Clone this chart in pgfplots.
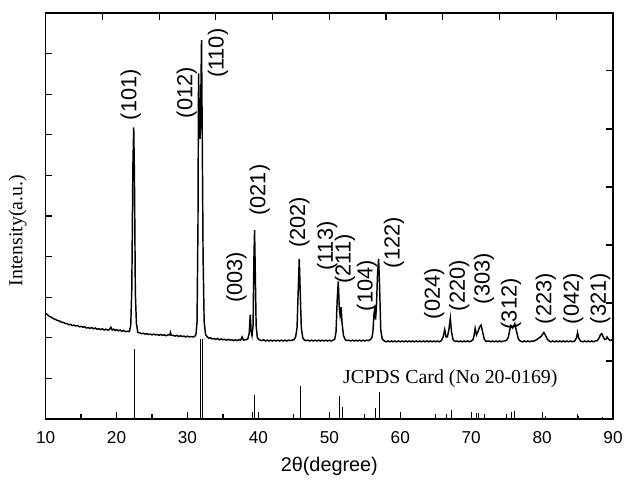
\documentclass[border=0pt]{standalone}
\usepackage{fontspec}
\setmainfont{Liberation Sans}
\newfontfamily\timesfont{Liberation Serif}
\usepackage{pgfplots}
\pgfplotsset{compat=1.18}

\begin{document}
\begin{tikzpicture}
\begin{axis}[
  scale only axis,
  width=429pt, height=307pt,
  xmin=10, xmax=90, ymin=0, ymax=10,
  xtick={10,20,...,90}, minor x tick num=1,
  ytick={1,...,9}, yticklabels={},
  xtick pos=left, ytick pos=left,
  tick align=inside,
  major tick length=5pt, minor tick length=3.5pt,
  axis line style={line width=1.1pt},
  every tick/.style={line width=0.9pt, black},
  /pgf/number format/assume math mode=true,
  ticklabel style={font=\fontsize{13}{14}\selectfont},
  xticklabel style={yshift=-6pt},
  xlabel={2θ(degree)},
  xlabel style={font=\fontsize{15}{16}\selectfont, yshift=-3pt},
  ylabel={\timesfont Intensity(a.u.)},
  ylabel style={font=\fontsize{15}{16}\selectfont, yshift=4pt, xshift=-11pt},
  clip=false,
]
% measured pattern
\addplot[black, line width=1.1pt, no marks] coordinates {
(10.0,2.60) (10.25,2.57) (10.5,2.53) (10.75,2.51) (11.0,2.48) (11.25,2.46) (11.5,2.44) (11.75,2.42)
(12.0,2.41) (12.25,2.38) (12.5,2.38) (12.75,2.35) (13.0,2.35) (13.25,2.32) (13.5,2.33) (13.75,2.30)
(14.0,2.31) (14.25,2.29) (14.5,2.30) (14.75,2.27) (15.0,2.28) (15.25,2.26) (15.5,2.27) (15.75,2.24)
(16.0,2.25) (16.25,2.23) (16.5,2.25) (16.75,2.22) (17.0,2.24) (17.25,2.21) (17.5,2.22) (17.75,2.20)
(18.0,2.22) (18.25,2.19) (18.5,2.21) (18.75,2.19) (19.0,2.20) (19.2,2.26) (19.4,2.19) (19.6,2.21)
(19.8,2.18) (20.0,2.20) (20.25,2.17) (20.5,2.19) (20.75,2.16) (21.0,2.18) (21.25,2.15) (21.5,2.16)
(21.8,2.15) (22.0,2.30) (22.15,3.20) (22.3,6.20) (22.42,7.18) (22.52,6.00) (22.65,3.10) (22.8,2.35)
(23.0,2.13) (23.25,2.12) (23.5,2.10) (23.75,2.11) (24.0,2.09) (24.25,2.10) (24.5,2.08) (24.75,2.09)
(25.0,2.07) (25.25,2.09) (25.5,2.07) (25.75,2.08) (26.0,2.06) (26.25,2.08) (26.5,2.06) (26.75,2.07)
(27.0,2.05) (27.25,2.07) (27.5,2.07) (27.6,2.13) (27.7,2.06) (28.0,2.06) (28.25,2.04) (28.5,2.06)
(28.75,2.03) (29.0,2.05) (29.25,2.03) (29.5,2.04) (29.75,2.02) (30.0,2.04) (30.25,2.02) (30.5,2.03)
(30.75,2.02) (31.0,2.03) (31.2,2.08) (31.35,2.40) (31.48,4.80) (31.56,8.51) (31.66,7.60)
(31.78,6.90) (31.9,8.20) (31.98,9.33) (32.08,7.00) (32.2,4.00) (32.35,2.40) (32.55,2.08)
(32.8,2.02) (33.0,1.99) (33.25,2.00) (33.5,1.97) (33.75,1.98) (34.0,1.96) (34.25,1.98) (34.5,1.95)
(34.75,1.97) (35.0,1.95) (35.25,1.96) (35.5,1.94) (35.75,1.96) (36.0,1.94) (36.25,1.95) (36.5,1.93)
(36.75,1.95) (37.0,1.93) (37.25,1.95) (37.5,1.94) (37.7,2.02) (37.9,1.94) (38.2,1.95) (38.5,1.97)
(38.7,2.10) (38.85,2.57) (38.98,2.15) (39.1,2.05) (39.25,2.30) (39.36,3.90) (39.46,4.65) (39.56,3.60)
(39.68,2.30) (39.85,2.00) (40.1,1.95) (40.5,1.93) (40.75,1.95) (41.0,1.92) (41.25,1.94) (41.5,1.92)
(41.75,1.94) (42.0,1.92) (42.25,1.94) (42.5,1.92) (42.75,1.94) (43.0,1.92) (43.25,1.94) (43.5,1.92)
(43.75,1.94) (44.0,1.92) (44.25,1.94) (44.5,1.93) (44.75,1.94) (45.0,1.95) (45.25,2.02) (45.45,2.25)
(45.6,3.10) (45.76,3.94) (45.9,3.10) (46.05,2.25) (46.25,2.00) (46.5,1.94) (46.75,1.93) (47.0,1.94)
(47.25,1.92) (47.5,1.94) (47.75,1.92) (48.0,1.94) (48.25,1.92) (48.5,1.94) (48.75,1.92) (49.0,1.94)
(49.25,1.92) (49.5,1.94) (49.75,1.92) (50.0,1.94) (50.25,1.92) (50.5,1.94) (50.75,1.96) (50.95,2.15)
(51.1,2.90) (51.26,3.39) (51.4,2.75) (51.52,2.55) (51.66,2.75) (51.8,2.35) (52.0,2.05) (52.25,1.95)
(52.5,1.93) (52.75,1.94) (53.0,1.92) (53.25,1.94) (53.5,1.92) (53.75,1.94) (54.0,1.92) (54.25,1.94)
(54.5,1.92) (54.75,1.94) (55.0,1.92) (55.25,1.94) (55.5,1.93) (55.75,1.95) (56.0,2.00) (56.15,2.15)
(56.3,2.60) (56.4,2.70) (56.52,2.45) (56.65,2.80) (56.8,3.60) (56.95,3.94) (57.08,3.30) (57.25,2.20)
(57.45,1.97) (57.75,1.92) (58.0,1.90) (58.25,1.92) (58.5,1.90) (58.75,1.92) (59.0,1.90) (59.25,1.92)
(59.5,1.90) (59.75,1.92) (60.0,1.90) (60.25,1.92) (60.5,1.90) (60.75,1.92) (61.0,1.90) (61.25,1.92)
(61.5,1.90) (61.75,1.92) (62.0,1.90) (62.25,1.92) (62.5,1.90) (62.75,1.92) (63.0,1.90) (63.25,1.92)
(63.5,1.90) (63.75,1.92) (64.0,1.90) (64.25,1.92) (64.5,1.90) (64.75,1.92) (65.0,1.90) (65.25,1.92)
(65.5,1.90) (65.8,1.93) (66.05,2.02) (66.27,2.20) (66.45,2.02) (66.65,2.02) (66.85,2.20) (67.06,2.48)
(67.22,2.15) (67.45,1.95) (67.75,1.91) (68.0,1.92) (68.25,1.90) (68.5,1.92) (68.75,1.90) (69.0,1.92)
(69.25,1.90) (69.5,1.92) (69.75,1.90) (70.0,1.92) (70.25,1.95) (70.4,2.05) (70.56,2.23) (70.75,2.07)
(70.95,2.15) (71.2,2.27) (71.4,2.31) (71.6,2.15) (71.85,1.96) (72.1,1.91) (72.5,1.92) (72.75,1.90)
(73.0,1.92) (73.25,1.90) (73.5,1.92) (73.75,1.90) (74.0,1.92) (74.25,1.90) (74.5,1.92) (74.75,1.92)
(75.0,1.94) (75.25,2.02) (75.45,2.20) (75.6,2.30) (75.85,2.24) (76.15,2.35) (76.4,2.15) (76.65,1.97)
(76.9,1.92) (77.25,1.90) (77.5,1.92) (77.75,1.90) (78.0,1.92) (78.25,1.90) (78.5,1.92) (78.75,1.91)
(79.0,1.93) (79.3,1.96) (79.6,2.00) (79.85,2.03) (80.05,2.08) (80.25,2.13) (80.5,2.05) (80.75,1.96)
(81.0,1.92) (81.25,1.90) (81.5,1.92) (81.75,1.90) (82.0,1.92) (82.25,1.90) (82.5,1.92) (82.75,1.90)
(83.0,1.92) (83.25,1.90) (83.5,1.92) (83.75,1.90) (84.0,1.92) (84.25,1.90) (84.6,1.92) (84.85,2.00)
(85.0,2.13) (85.15,2.00) (85.4,1.92) (85.75,1.90) (86.0,1.92) (86.25,1.90) (86.5,1.92) (86.75,1.90)
(87.0,1.92) (87.25,1.90) (87.5,1.92) (87.8,1.93) (88.05,2.00) (88.25,2.08) (88.4,2.10) (88.6,2.03)
(88.8,1.96) (89.0,1.96) (89.15,2.02) (89.35,1.97) (89.6,1.93) (89.8,1.95) (90.0,1.92)
};
% JCPDS reference lines
\addplot[black, line width=0.6pt, ycomb, no marks] coordinates {
(22.55,1.73) (31.77,1.96) (32.1,1.96) (39.09,0.17) (39.5,0.59) (45.9,0.82)
(51.45,0.57) (51.8,0.30) (56.5,0.27) (57.1,0.67) (66.5,0.12) (67.2,0.22)
(70.7,0.14) (71.07,0.15) (71.8,0.13) (75.6,0.17) (76.1,0.20)
(80.5,0.07) (85.06,0.07) (88.55,0.05)
};
\node[font=\fontsize{15}{16}\selectfont\timesfont] at (axis cs:67.06,0.99) {JCPDS Card (No 20-0169)};
\begin{scope}[every node/.style={rotate=90, anchor=west, inner sep=0pt, font=\fontsize{16.5}{17}\selectfont}]
\node at (axis cs:22.0,7.35) {(101)};
\node at (axis cs:29.9,7.40) {(012)};
\node at (axis cs:34.3,8.39) {(110)};
\node at (axis cs:36.9,2.85) {(003)};
\node at (axis cs:40.2,5.00) {(021)};
\node at (axis cs:45.8,4.21) {(202)};
\node at (axis cs:49.7,3.64) {(113)};
\node at (axis cs:52.2,3.32) {(211)};
\node at (axis cs:55.3,2.65) {(104)};
\node at (axis cs:59.1,3.71) {(122)};
\node at (axis cs:64.8,2.45) {(024)};
\node at (axis cs:68.3,2.65) {(220)};
\node at (axis cs:71.8,2.82) {(303)};
\node at (axis cs:75.6,2.20) {(312)};
\node at (axis cs:80.5,2.33) {(223)};
\node at (axis cs:84.4,2.33) {(042)};
\node at (axis cs:88.2,2.33) {(321)};
\end{scope}
\path ([xshift=-34.5pt,yshift=-43.25pt]rel axis cs:0,0) ([xshift=6.75pt,yshift=9.75pt]rel axis cs:1,1);
\end{axis}
% top and right tick marks of the second frame
\begin{axis}[
  scale only axis,
  width=429pt, height=307pt,
  xmin=10, xmax=90, ymin=0, ymax=7,
  xtick={18,26,...,82}, ytick={1,...,6},
  xticklabels={}, yticklabels={},
  xtick pos=right, ytick pos=right,
  tick align=inside, major tick length=5pt,
  axis line style={line width=1.1pt},
  every tick/.style={line width=0.9pt, black},
]
\end{axis}
\end{tikzpicture}
\end{document}
